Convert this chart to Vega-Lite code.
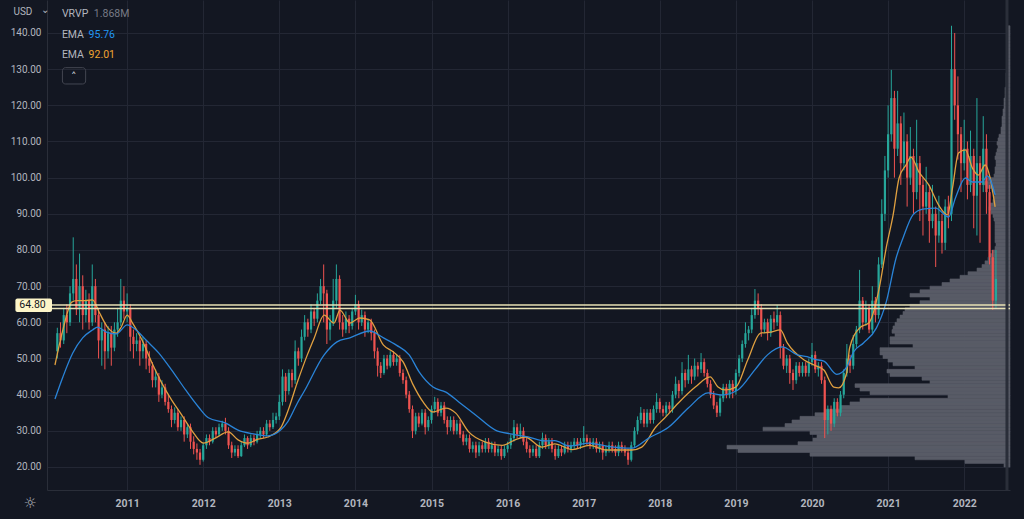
{
"$schema":"https://vega.github.io/schema/vega-lite/v6.json",
"width":963,"height":490,
"autosize":{"type":"none"},
"padding":{"left":47,"top":0,"right":14,"bottom":29},
"background":"#131722",
"config":{"view":{"stroke":null},"font":"Roboto",
"axis":{"domainColor":"#2a2e39","gridColor":"#232734","labelColor":"#b2b5be","ticks":false,"labelFont":"Roboto"}},
"datasets":{
"candles":[
{"t":2010.083,"o":52,"h":58.5,"l":50,"c":57},{"t":2010.125,"o":57,"h":60,"l":53,"c":55},{"t":2010.167,"o":55,"h":64,"l":54,"c":62},{"t":2010.208,"o":62,"h":65,"l":57,"c":60},{"t":2010.250,"o":60,"h":70,"l":59,"c":68},{"t":2010.292,"o":68,"h":83.5,"l":66,"c":72},{"t":2010.333,"o":72,"h":76,"l":62,"c":64},{"t":2010.375,"o":64,"h":79,"l":60,"c":70},{"t":2010.417,"o":70,"h":73,"l":58,"c":62},{"t":2010.458,"o":62,"h":69,"l":60,"c":66},{"t":2010.500,"o":66,"h":68,"l":58,"c":60},{"t":2010.542,"o":60,"h":76,"l":59,"c":70},{"t":2010.583,"o":70,"h":72,"l":60,"c":62},{"t":2010.625,"o":62,"h":64,"l":50,"c":55},{"t":2010.667,"o":55,"h":60,"l":48,"c":58},{"t":2010.708,"o":58,"h":60,"l":47,"c":52},{"t":2010.750,"o":52,"h":59,"l":50,"c":57},{"t":2010.792,"o":57,"h":59,"l":48,"c":53},{"t":2010.833,"o":53,"h":60,"l":52,"c":58},{"t":2010.875,"o":58,"h":64,"l":56,"c":60},{"t":2010.917,"o":60,"h":72,"l":59,"c":66},{"t":2010.958,"o":66,"h":70,"l":61,"c":63},
{"t":2011.000,"o":63,"h":68,"l":60,"c":64},{"t":2011.042,"o":64,"h":65,"l":52,"c":56},{"t":2011.083,"o":56,"h":58,"l":50,"c":54},{"t":2011.125,"o":54,"h":57,"l":52,"c":55},{"t":2011.167,"o":55,"h":56,"l":48,"c":52},{"t":2011.208,"o":52,"h":56,"l":50,"c":54},{"t":2011.250,"o":54,"h":55,"l":47,"c":50},{"t":2011.292,"o":50,"h":52,"l":46,"c":48},{"t":2011.333,"o":48,"h":49,"l":42,"c":44},{"t":2011.375,"o":44,"h":47,"l":42,"c":45},{"t":2011.417,"o":45,"h":46,"l":38,"c":40},{"t":2011.458,"o":40,"h":44,"l":39,"c":42},{"t":2011.500,"o":42,"h":43,"l":37,"c":38},{"t":2011.542,"o":38,"h":40,"l":35,"c":36},{"t":2011.583,"o":36,"h":37,"l":31,"c":33},{"t":2011.625,"o":33,"h":36.5,"l":32,"c":35},{"t":2011.667,"o":35,"h":36,"l":30,"c":31},{"t":2011.708,"o":31,"h":34,"l":30,"c":33},{"t":2011.750,"o":33,"h":34,"l":27,"c":29},{"t":2011.792,"o":29,"h":32,"l":28,"c":31},{"t":2011.833,"o":31,"h":32,"l":25,"c":27},{"t":2011.875,"o":27,"h":28.5,"l":23.5,"c":25},{"t":2011.917,"o":25,"h":26.5,"l":22,"c":24},{"t":2011.958,"o":24,"h":25,"l":20.6,"c":22},
{"t":2012.000,"o":22,"h":26.8,"l":21.5,"c":26},{"t":2012.042,"o":26,"h":29,"l":25,"c":28},{"t":2012.083,"o":28,"h":29,"l":26,"c":27},{"t":2012.125,"o":27,"h":31,"l":26.5,"c":30},{"t":2012.167,"o":30,"h":31,"l":28,"c":29},{"t":2012.208,"o":29,"h":32,"l":28.5,"c":31},{"t":2012.250,"o":31,"h":32.8,"l":30,"c":32},{"t":2012.292,"o":32,"h":33.6,"l":29,"c":30},{"t":2012.333,"o":30,"h":31,"l":25,"c":26},{"t":2012.375,"o":26,"h":27,"l":22.5,"c":24},{"t":2012.417,"o":24,"h":26,"l":23,"c":25},{"t":2012.458,"o":25,"h":26,"l":22.5,"c":23},{"t":2012.500,"o":23,"h":27,"l":22.8,"c":26},{"t":2012.542,"o":26,"h":29,"l":25.5,"c":28},{"t":2012.583,"o":28,"h":28.5,"l":25,"c":26},{"t":2012.625,"o":26,"h":29,"l":25.5,"c":28},{"t":2012.667,"o":28,"h":29,"l":26,"c":27},{"t":2012.708,"o":27,"h":30,"l":26.5,"c":29},{"t":2012.750,"o":29,"h":31,"l":28,"c":30},{"t":2012.792,"o":30,"h":31,"l":28,"c":29},{"t":2012.833,"o":29,"h":33,"l":28.5,"c":32},{"t":2012.875,"o":32,"h":33,"l":30,"c":31},{"t":2012.917,"o":31,"h":35,"l":30.5,"c":33},{"t":2012.958,"o":33,"h":35,"l":32,"c":34},
{"t":2013.000,"o":34,"h":40,"l":33,"c":38},{"t":2013.042,"o":38,"h":47,"l":37,"c":45},{"t":2013.083,"o":45,"h":46,"l":38,"c":41},{"t":2013.125,"o":41,"h":47,"l":40,"c":46},{"t":2013.167,"o":46,"h":47,"l":42,"c":44},{"t":2013.208,"o":44,"h":55,"l":43,"c":52},{"t":2013.250,"o":52,"h":53,"l":48,"c":50},{"t":2013.292,"o":50,"h":58,"l":49,"c":56},{"t":2013.333,"o":56,"h":62,"l":55,"c":60},{"t":2013.375,"o":60,"h":61,"l":56,"c":58},{"t":2013.417,"o":58,"h":65,"l":57,"c":63},{"t":2013.458,"o":63,"h":64,"l":59,"c":61},{"t":2013.500,"o":61,"h":68,"l":60,"c":66},{"t":2013.542,"o":66,"h":72,"l":65,"c":70},{"t":2013.583,"o":70,"h":76,"l":60,"c":68},{"t":2013.625,"o":68,"h":69,"l":54,"c":58},{"t":2013.667,"o":58,"h":62,"l":55,"c":60},{"t":2013.708,"o":60,"h":72,"l":59,"c":66},{"t":2013.750,"o":66,"h":76,"l":64,"c":72},{"t":2013.792,"o":72,"h":73,"l":58,"c":60},{"t":2013.833,"o":60,"h":62,"l":56,"c":58},{"t":2013.875,"o":58,"h":63,"l":57,"c":61},{"t":2013.917,"o":61,"h":62,"l":57,"c":59},{"t":2013.958,"o":59,"h":64,"l":58,"c":63},
{"t":2014.000,"o":63,"h":67.6,"l":62,"c":65},{"t":2014.042,"o":65,"h":66,"l":58,"c":60},{"t":2014.083,"o":60,"h":63.5,"l":59,"c":62},{"t":2014.125,"o":62,"h":63,"l":56,"c":58},{"t":2014.167,"o":58,"h":61,"l":57,"c":60},{"t":2014.208,"o":60,"h":61,"l":55,"c":57},{"t":2014.250,"o":57,"h":58,"l":50,"c":52},{"t":2014.292,"o":52,"h":53,"l":45,"c":48},{"t":2014.333,"o":48,"h":49,"l":44.6,"c":46},{"t":2014.375,"o":46,"h":51,"l":45.5,"c":50},{"t":2014.417,"o":50,"h":51,"l":47,"c":48},{"t":2014.458,"o":48,"h":52,"l":47.5,"c":51},{"t":2014.500,"o":51,"h":52,"l":48,"c":49},{"t":2014.542,"o":49,"h":51,"l":48,"c":50},{"t":2014.583,"o":50,"h":51,"l":45,"c":46},{"t":2014.625,"o":46,"h":47,"l":43,"c":44},{"t":2014.667,"o":44,"h":45,"l":39,"c":40},{"t":2014.708,"o":40,"h":41,"l":35,"c":36},{"t":2014.750,"o":36,"h":37,"l":28,"c":30},{"t":2014.792,"o":30,"h":35,"l":29,"c":34},{"t":2014.833,"o":34,"h":35,"l":31,"c":32},{"t":2014.875,"o":32,"h":36,"l":31.5,"c":35},{"t":2014.917,"o":35,"h":36,"l":29,"c":31},{"t":2014.958,"o":31,"h":34,"l":30,"c":33},
{"t":2015.000,"o":33,"h":37,"l":32,"c":36},{"t":2015.042,"o":36,"h":39.4,"l":35,"c":38},{"t":2015.083,"o":38,"h":39,"l":34,"c":35},{"t":2015.125,"o":35,"h":38,"l":34,"c":37},{"t":2015.167,"o":37,"h":38,"l":32,"c":33},{"t":2015.208,"o":33,"h":34,"l":29,"c":31},{"t":2015.250,"o":31,"h":34,"l":30,"c":33},{"t":2015.292,"o":33,"h":34,"l":29,"c":30},{"t":2015.333,"o":30,"h":33,"l":29,"c":32},{"t":2015.375,"o":32,"h":33,"l":28,"c":29},{"t":2015.417,"o":29,"h":30,"l":26,"c":27},{"t":2015.458,"o":27,"h":29,"l":26,"c":28},{"t":2015.500,"o":28,"h":29,"l":24,"c":25},{"t":2015.542,"o":25,"h":27,"l":24,"c":26},{"t":2015.583,"o":26,"h":27,"l":22.5,"c":24},{"t":2015.625,"o":24,"h":27,"l":23,"c":26},{"t":2015.667,"o":26,"h":27,"l":24,"c":25},{"t":2015.708,"o":25,"h":28,"l":24,"c":27},{"t":2015.750,"o":27,"h":28,"l":24,"c":25},{"t":2015.792,"o":25,"h":27,"l":24,"c":26},{"t":2015.833,"o":26,"h":27,"l":23,"c":24},{"t":2015.875,"o":24,"h":26,"l":23,"c":25},{"t":2015.917,"o":25,"h":26,"l":22,"c":23},{"t":2015.958,"o":23,"h":26,"l":22.5,"c":25},
{"t":2016.000,"o":25,"h":27,"l":24,"c":26},{"t":2016.042,"o":26,"h":29,"l":25,"c":28},{"t":2016.083,"o":28,"h":33,"l":27,"c":31},{"t":2016.125,"o":31,"h":32,"l":28,"c":29},{"t":2016.167,"o":29,"h":32,"l":28,"c":30},{"t":2016.208,"o":30,"h":31,"l":26,"c":27},{"t":2016.250,"o":27,"h":28,"l":24,"c":25},{"t":2016.292,"o":25,"h":26,"l":22.5,"c":24},{"t":2016.333,"o":24,"h":26,"l":23,"c":25},{"t":2016.375,"o":25,"h":26,"l":22.5,"c":23},{"t":2016.417,"o":23,"h":27,"l":22.5,"c":26},{"t":2016.458,"o":26,"h":29.5,"l":25,"c":28},{"t":2016.500,"o":28,"h":29,"l":25,"c":26},{"t":2016.542,"o":26,"h":28,"l":25,"c":27},{"t":2016.583,"o":27,"h":28,"l":24,"c":25},{"t":2016.625,"o":25,"h":26,"l":22,"c":23},{"t":2016.667,"o":23,"h":26,"l":22.5,"c":25},{"t":2016.708,"o":25,"h":26,"l":23,"c":24},{"t":2016.750,"o":24,"h":27,"l":23.5,"c":26},{"t":2016.792,"o":26,"h":27,"l":24,"c":25},{"t":2016.833,"o":25,"h":27,"l":24,"c":26},{"t":2016.875,"o":26,"h":28,"l":25,"c":27},{"t":2016.917,"o":27,"h":28,"l":25,"c":26},{"t":2016.958,"o":26,"h":28,"l":25,"c":27},
{"t":2017.000,"o":27,"h":31.3,"l":26,"c":28},{"t":2017.042,"o":28,"h":29,"l":26,"c":27},{"t":2017.083,"o":27,"h":28,"l":25,"c":26},{"t":2017.125,"o":26,"h":28,"l":25,"c":27},{"t":2017.167,"o":27,"h":28,"l":24,"c":25},{"t":2017.208,"o":25,"h":27,"l":24,"c":26},{"t":2017.250,"o":26,"h":27,"l":22,"c":24},{"t":2017.292,"o":24,"h":26,"l":23,"c":25},{"t":2017.333,"o":25,"h":27,"l":24,"c":26},{"t":2017.375,"o":26,"h":27,"l":24,"c":25},{"t":2017.417,"o":25,"h":26,"l":23,"c":24},{"t":2017.458,"o":24,"h":27,"l":23,"c":26},{"t":2017.500,"o":26,"h":27,"l":24,"c":25},{"t":2017.542,"o":25,"h":26,"l":23,"c":24},{"t":2017.583,"o":24,"h":25,"l":20.6,"c":22},{"t":2017.625,"o":22,"h":27,"l":21.5,"c":26},{"t":2017.667,"o":26,"h":31,"l":25.5,"c":30},{"t":2017.708,"o":30,"h":34,"l":29,"c":33},{"t":2017.750,"o":33,"h":36.6,"l":32,"c":35},{"t":2017.792,"o":35,"h":36,"l":31,"c":32},{"t":2017.833,"o":32,"h":36,"l":31,"c":35},{"t":2017.875,"o":35,"h":36,"l":32,"c":33},{"t":2017.917,"o":33,"h":37,"l":32,"c":36},{"t":2017.958,"o":36,"h":40.4,"l":35,"c":38},
{"t":2018.000,"o":38,"h":39,"l":35,"c":36},{"t":2018.042,"o":36,"h":37,"l":34,"c":35},{"t":2018.083,"o":35,"h":38,"l":34,"c":37},{"t":2018.125,"o":37,"h":38,"l":35,"c":36},{"t":2018.167,"o":36,"h":41,"l":35,"c":40},{"t":2018.208,"o":40,"h":45,"l":39,"c":43},{"t":2018.250,"o":43,"h":44,"l":39,"c":41},{"t":2018.292,"o":41,"h":49,"l":40,"c":46},{"t":2018.333,"o":46,"h":47,"l":42,"c":44},{"t":2018.375,"o":44,"h":51,"l":43,"c":47},{"t":2018.417,"o":47,"h":48,"l":43,"c":45},{"t":2018.458,"o":45,"h":50,"l":44,"c":48},{"t":2018.500,"o":48,"h":49,"l":45,"c":47},{"t":2018.542,"o":47,"h":51.5,"l":46,"c":49},{"t":2018.583,"o":49,"h":50,"l":45,"c":46},{"t":2018.625,"o":46,"h":47,"l":42,"c":43},{"t":2018.667,"o":43,"h":44,"l":39,"c":40},{"t":2018.708,"o":40,"h":41,"l":36,"c":37},{"t":2018.750,"o":37,"h":38,"l":33.8,"c":35},{"t":2018.792,"o":35,"h":40,"l":34,"c":39},{"t":2018.833,"o":39,"h":43,"l":38,"c":42},{"t":2018.875,"o":42,"h":43,"l":39,"c":40},{"t":2018.917,"o":40,"h":44,"l":39,"c":43},{"t":2018.958,"o":43,"h":44,"l":39,"c":41},
{"t":2019.000,"o":41,"h":47,"l":40,"c":46},{"t":2019.042,"o":46,"h":51,"l":45,"c":50},{"t":2019.083,"o":50,"h":55,"l":49,"c":54},{"t":2019.125,"o":54,"h":60,"l":53,"c":57},{"t":2019.167,"o":57,"h":59,"l":55,"c":58},{"t":2019.208,"o":58,"h":64,"l":57,"c":62},{"t":2019.250,"o":62,"h":69.2,"l":61,"c":66},{"t":2019.292,"o":66,"h":68,"l":62,"c":64},{"t":2019.333,"o":64,"h":65,"l":56,"c":58},{"t":2019.375,"o":58,"h":61,"l":57,"c":60},{"t":2019.417,"o":60,"h":61,"l":55,"c":57},{"t":2019.458,"o":57,"h":62,"l":56,"c":61},{"t":2019.500,"o":61,"h":63,"l":58,"c":60},{"t":2019.542,"o":60,"h":64.8,"l":59,"c":62},{"t":2019.583,"o":62,"h":63,"l":50,"c":53},{"t":2019.625,"o":53,"h":54,"l":47,"c":48},{"t":2019.667,"o":48,"h":51,"l":46,"c":50},{"t":2019.708,"o":50,"h":51,"l":43,"c":46},{"t":2019.750,"o":46,"h":47,"l":41.3,"c":44},{"t":2019.792,"o":44,"h":49,"l":43,"c":48},{"t":2019.833,"o":48,"h":49,"l":45,"c":46},{"t":2019.875,"o":46,"h":49,"l":45,"c":48},{"t":2019.917,"o":48,"h":49,"l":45,"c":46},{"t":2019.958,"o":46,"h":50,"l":45,"c":49},
{"t":2020.000,"o":49,"h":54.3,"l":48,"c":51},{"t":2020.042,"o":51,"h":52,"l":46,"c":47},{"t":2020.083,"o":47,"h":49,"l":45,"c":48},{"t":2020.125,"o":48,"h":49,"l":43,"c":44},{"t":2020.167,"o":44,"h":45,"l":28,"c":33},{"t":2020.208,"o":33,"h":37,"l":29,"c":36},{"t":2020.250,"o":36,"h":37,"l":30,"c":32},{"t":2020.292,"o":32,"h":39,"l":31,"c":38},{"t":2020.333,"o":38,"h":39,"l":34,"c":35},{"t":2020.375,"o":35,"h":41,"l":34,"c":40},{"t":2020.417,"o":40,"h":47,"l":39,"c":46},{"t":2020.458,"o":46,"h":54,"l":45,"c":50},{"t":2020.500,"o":50,"h":51,"l":46,"c":48},{"t":2020.542,"o":48,"h":56.5,"l":47,"c":54},{"t":2020.583,"o":54,"h":59,"l":53,"c":58},{"t":2020.625,"o":58,"h":74.5,"l":57,"c":66},{"t":2020.667,"o":66,"h":67,"l":58,"c":60},{"t":2020.708,"o":60,"h":66,"l":59,"c":64},{"t":2020.750,"o":64,"h":65,"l":57,"c":58},{"t":2020.792,"o":58,"h":70,"l":57,"c":66},{"t":2020.833,"o":66,"h":67,"l":60,"c":62},{"t":2020.875,"o":62,"h":78,"l":61,"c":76},{"t":2020.917,"o":76,"h":94,"l":75,"c":90},{"t":2020.958,"o":90,"h":106,"l":88,"c":102},
{"t":2021.000,"o":102,"h":120,"l":100,"c":112},{"t":2021.042,"o":112,"h":129.8,"l":110,"c":122},{"t":2021.083,"o":122,"h":124,"l":100,"c":108},{"t":2021.125,"o":108,"h":124,"l":106,"c":115},{"t":2021.167,"o":115,"h":117,"l":98,"c":104},{"t":2021.208,"o":104,"h":118,"l":102,"c":110},{"t":2021.250,"o":110,"h":112,"l":92,"c":100},{"t":2021.292,"o":100,"h":114,"l":98,"c":106},{"t":2021.333,"o":106,"h":108,"l":90,"c":96},{"t":2021.375,"o":96,"h":116,"l":94,"c":104},{"t":2021.417,"o":104,"h":106,"l":88,"c":98},{"t":2021.458,"o":98,"h":100,"l":84,"c":92},{"t":2021.500,"o":92,"h":103,"l":90,"c":96},{"t":2021.542,"o":96,"h":98,"l":82,"c":88},{"t":2021.583,"o":88,"h":98,"l":86,"c":90},{"t":2021.625,"o":90,"h":92,"l":75.3,"c":84},{"t":2021.667,"o":84,"h":95,"l":82,"c":88},{"t":2021.708,"o":88,"h":90,"l":79,"c":82},{"t":2021.750,"o":82,"h":94,"l":80,"c":92},{"t":2021.792,"o":92,"h":95,"l":86,"c":90},{"t":2021.833,"o":90,"h":142,"l":88,"c":130},{"t":2021.875,"o":130,"h":140,"l":116,"c":120},{"t":2021.917,"o":120,"h":128,"l":105,"c":112},{"t":2021.958,"o":112,"h":114,"l":96,"c":104},
{"t":2022.000,"o":104,"h":116,"l":102,"c":108},{"t":2022.042,"o":108,"h":110,"l":94,"c":98},{"t":2022.083,"o":98,"h":113,"l":96,"c":106},{"t":2022.125,"o":106,"h":108,"l":86,"c":95},{"t":2022.167,"o":95,"h":122,"l":84,"c":104},{"t":2022.208,"o":104,"h":106,"l":82,"c":98},{"t":2022.250,"o":98,"h":117,"l":96,"c":108},{"t":2022.292,"o":108,"h":112,"l":90,"c":96},{"t":2022.333,"o":96,"h":98,"l":76,"c":78},{"t":2022.375,"o":78,"h":80,"l":63.4,"c":66},{"t":2022.417,"o":66,"h":80,"l":64,"c":72}
],
"ema":[
{"t":2010.052,"v":48.2,"s":"fast"},{"t":2010.156,"v":57.9,"s":"fast"},{"t":2010.273,"v":65.6,"s":"fast"},{"t":2010.338,"v":66,"s":"fast"},{"t":2010.442,"v":66,"s":"fast"},{"t":2010.546,"v":66.2,"s":"fast"},{"t":2010.637,"v":62.6,"s":"fast"},{"t":2010.741,"v":58.7,"s":"fast"},{"t":2010.858,"v":57,"s":"fast"},{"t":2010.923,"v":58.7,"s":"fast"},{"t":2011.001,"v":62,"s":"fast"},{"t":2011.066,"v":60,"s":"fast"},{"t":2011.196,"v":55.1,"s":"fast"},{"t":2011.326,"v":48.8,"s":"fast"},{"t":2011.456,"v":43.2,"s":"fast"},{"t":2011.586,"v":38.5,"s":"fast"},{"t":2011.717,"v":34.4,"s":"fast"},{"t":2011.847,"v":30.2,"s":"fast"},{"t":2012.003,"v":26.6,"s":"fast"},{"t":2012.159,"v":28,"s":"fast"},{"t":2012.328,"v":29.7,"s":"fast"},{"t":2012.458,"v":27.5,"s":"fast"},{"t":2012.588,"v":26.6,"s":"fast"},{"t":2012.718,"v":27.7,"s":"fast"},{"t":2012.848,"v":28.3,"s":"fast"},{"t":2013.017,"v":30.8,"s":"fast"},{"t":2013.108,"v":35.2,"s":"fast"},{"t":2013.238,"v":43.5,"s":"fast"},{"t":2013.368,"v":51,"s":"fast"},{"t":2013.459,"v":55.7,"s":"fast"},{"t":2013.589,"v":62,"s":"fast"},{"t":2013.719,"v":59.8,"s":"fast"},{"t":2013.797,"v":63.4,"s":"fast"},{"t":2013.927,"v":59.8,"s":"fast"},{"t":2014.057,"v":61.2,"s":"fast"},{"t":2014.187,"v":60.7,"s":"fast"},{"t":2014.369,"v":53.7,"s":"fast"},{"t":2014.499,"v":51.8,"s":"fast"},{"t":2014.629,"v":49,"s":"fast"},{"t":2014.759,"v":42.7,"s":"fast"},{"t":2014.889,"v":38,"s":"fast"},{"t":2015.020,"v":35.2,"s":"fast"},{"t":2015.189,"v":36.3,"s":"fast"},{"t":2015.319,"v":34.9,"s":"fast"},{"t":2015.488,"v":29.7,"s":"fast"},{"t":2015.709,"v":26.9,"s":"fast"},{"t":2015.930,"v":26,"s":"fast"},{"t":2016.099,"v":27.5,"s":"fast"},{"t":2016.229,"v":28.3,"s":"fast"},{"t":2016.450,"v":25.5,"s":"fast"},{"t":2016.619,"v":26.4,"s":"fast"},{"t":2016.853,"v":24.8,"s":"fast"},{"t":2017.074,"v":26,"s":"fast"},{"t":2017.295,"v":24.7,"s":"fast"},{"t":2017.633,"v":24.7,"s":"fast"},{"t":2017.763,"v":25.5,"s":"fast"},{"t":2017.945,"v":31,"s":"fast"},{"t":2018.075,"v":33.8,"s":"fast"},{"t":2018.244,"v":37.7,"s":"fast"},{"t":2018.466,"v":42.1,"s":"fast"},{"t":2018.661,"v":44.9,"s":"fast"},{"t":2018.765,"v":42.1,"s":"fast"},{"t":2018.856,"v":41.3,"s":"fast"},{"t":2018.999,"v":42.1,"s":"fast"},{"t":2019.155,"v":49.6,"s":"fast"},{"t":2019.324,"v":57,"s":"fast"},{"t":2019.454,"v":57.3,"s":"fast"},{"t":2019.584,"v":57.9,"s":"fast"},{"t":2019.675,"v":54.3,"s":"fast"},{"t":2019.896,"v":49.6,"s":"fast"},{"t":2020.026,"v":48.2,"s":"fast"},{"t":2020.156,"v":46.8,"s":"fast"},{"t":2020.286,"v":42.1,"s":"fast"},{"t":2020.351,"v":41.9,"s":"fast"},{"t":2020.455,"v":46,"s":"fast"},{"t":2020.494,"v":52.9,"s":"fast"},{"t":2020.624,"v":58.4,"s":"fast"},{"t":2020.754,"v":60,"s":"fast"},{"t":2020.884,"v":69.5,"s":"fast"},{"t":2020.975,"v":80.6,"s":"fast"},{"t":2021.066,"v":89.7,"s":"fast"},{"t":2021.144,"v":99.9,"s":"fast"},{"t":2021.235,"v":103.5,"s":"fast"},{"t":2021.300,"v":105.7,"s":"fast"},{"t":2021.404,"v":101.6,"s":"fast"},{"t":2021.534,"v":98,"s":"fast"},{"t":2021.664,"v":92.4,"s":"fast"},{"t":2021.781,"v":89.7,"s":"fast"},{"t":2021.846,"v":97.1,"s":"fast"},{"t":2021.925,"v":106.8,"s":"fast"},{"t":2022.016,"v":107.7,"s":"fast"},{"t":2022.107,"v":102.7,"s":"fast"},{"t":2022.185,"v":100.7,"s":"fast"},{"t":2022.276,"v":103.5,"s":"fast"},{"t":2022.341,"v":99.9,"s":"fast"},{"t":2022.406,"v":91.9,"s":"fast"},
{"t":2010.052,"v":38.8,"s":"slow"},{"t":2010.156,"v":44.9,"s":"slow"},{"t":2010.286,"v":51.5,"s":"slow"},{"t":2010.416,"v":55.7,"s":"slow"},{"t":2010.546,"v":57.9,"s":"slow"},{"t":2010.611,"v":58.7,"s":"slow"},{"t":2010.728,"v":57.3,"s":"slow"},{"t":2010.858,"v":56.8,"s":"slow"},{"t":2011.001,"v":59.3,"s":"slow"},{"t":2011.118,"v":57.9,"s":"slow"},{"t":2011.248,"v":55.1,"s":"slow"},{"t":2011.417,"v":51.5,"s":"slow"},{"t":2011.586,"v":46.8,"s":"slow"},{"t":2011.769,"v":41.3,"s":"slow"},{"t":2011.938,"v":36.6,"s":"slow"},{"t":2012.068,"v":33.6,"s":"slow"},{"t":2012.289,"v":32.2,"s":"slow"},{"t":2012.458,"v":30.2,"s":"slow"},{"t":2012.679,"v":29.1,"s":"slow"},{"t":2012.848,"v":28.6,"s":"slow"},{"t":2013.017,"v":30.2,"s":"slow"},{"t":2013.108,"v":32.4,"s":"slow"},{"t":2013.238,"v":37.7,"s":"slow"},{"t":2013.329,"v":41,"s":"slow"},{"t":2013.589,"v":51,"s":"slow"},{"t":2013.758,"v":54.6,"s":"slow"},{"t":2013.927,"v":55.7,"s":"slow"},{"t":2014.187,"v":57.6,"s":"slow"},{"t":2014.369,"v":55.7,"s":"slow"},{"t":2014.538,"v":53.7,"s":"slow"},{"t":2014.707,"v":51,"s":"slow"},{"t":2014.837,"v":46.3,"s":"slow"},{"t":2015.020,"v":42.1,"s":"slow"},{"t":2015.189,"v":40.7,"s":"slow"},{"t":2015.358,"v":38,"s":"slow"},{"t":2015.579,"v":34.4,"s":"slow"},{"t":2015.839,"v":30.2,"s":"slow"},{"t":2016.060,"v":29.1,"s":"slow"},{"t":2016.268,"v":28.3,"s":"slow"},{"t":2016.489,"v":27.2,"s":"slow"},{"t":2016.619,"v":27.3,"s":"slow"},{"t":2016.814,"v":25.8,"s":"slow"},{"t":2017.074,"v":26.6,"s":"slow"},{"t":2017.295,"v":25.8,"s":"slow"},{"t":2017.633,"v":25.2,"s":"slow"},{"t":2017.854,"v":28,"s":"slow"},{"t":2018.114,"v":31,"s":"slow"},{"t":2018.374,"v":36.3,"s":"slow"},{"t":2018.635,"v":40.5,"s":"slow"},{"t":2018.804,"v":39.9,"s":"slow"},{"t":2019.025,"v":41.3,"s":"slow"},{"t":2019.246,"v":46.8,"s":"slow"},{"t":2019.415,"v":51,"s":"slow"},{"t":2019.610,"v":53.2,"s":"slow"},{"t":2019.805,"v":51,"s":"slow"},{"t":2019.935,"v":50.5,"s":"slow"},{"t":2020.026,"v":49.8,"s":"slow"},{"t":2020.156,"v":49.3,"s":"slow"},{"t":2020.325,"v":45.6,"s":"slow"},{"t":2020.455,"v":47.6,"s":"slow"},{"t":2020.546,"v":51.8,"s":"slow"},{"t":2020.676,"v":54.3,"s":"slow"},{"t":2020.845,"v":58.4,"s":"slow"},{"t":2020.975,"v":65.6,"s":"slow"},{"t":2021.105,"v":77.8,"s":"slow"},{"t":2021.196,"v":83.3,"s":"slow"},{"t":2021.326,"v":89.7,"s":"slow"},{"t":2021.456,"v":91.3,"s":"slow"},{"t":2021.625,"v":91.6,"s":"slow"},{"t":2021.794,"v":89.1,"s":"slow"},{"t":2021.885,"v":94.4,"s":"slow"},{"t":2022.016,"v":99.9,"s":"slow"},{"t":2022.107,"v":98.8,"s":"slow"},{"t":2022.237,"v":98.8,"s":"slow"},{"t":2022.302,"v":100.5,"s":"slow"},{"t":2022.406,"v":95.2,"s":"slow"}
],
"vp":[
{"p":20,"q":21,"v":6},{"p":21,"q":22,"v":45},{"p":22,"q":23,"v":95},{"p":23,"q":24,"v":200},{"p":24,"q":25,"v":272},{"p":25,"q":26,"v":283},{"p":26,"q":27,"v":212},{"p":27,"q":28,"v":197},{"p":28,"q":29,"v":193},{"p":29,"q":30,"v":200},{"p":30,"q":31,"v":247},{"p":31,"q":32,"v":225},{"p":32,"q":33,"v":218},{"p":33,"q":34,"v":210},{"p":34,"q":35,"v":195},{"p":35,"q":36,"v":185},{"p":36,"q":37,"v":170},{"p":37,"q":38,"v":160},{"p":38,"q":39,"v":150},{"p":39,"q":40,"v":62},{"p":40,"q":41,"v":140},{"p":41,"q":42,"v":150},{"p":42,"q":43,"v":155},{"p":43,"q":44,"v":80},{"p":44,"q":45,"v":88},{"p":45,"q":46,"v":120},{"p":46,"q":47,"v":123},{"p":47,"q":48,"v":95},{"p":48,"q":49,"v":117},{"p":49,"q":50,"v":122},{"p":50,"q":51,"v":127},{"p":51,"q":52,"v":130},{"p":52,"q":53,"v":130},{"p":53,"q":54,"v":97},{"p":54,"q":55,"v":120},{"p":55,"q":56,"v":120},{"p":56,"q":57,"v":115},{"p":57,"q":58,"v":118},{"p":58,"q":59,"v":117},{"p":59,"q":60,"v":115},{"p":60,"q":61,"v":113},{"p":61,"q":62,"v":110},{"p":62,"q":63,"v":107},{"p":63,"q":64,"v":105},{"p":64,"q":65,"v":100},{"p":65,"q":66,"v":90},{"p":66,"q":67,"v":80},{"p":67,"q":68,"v":100},{"p":68,"q":69,"v":90},{"p":69,"q":70,"v":80},{"p":70,"q":71,"v":68},{"p":71,"q":72,"v":60},{"p":72,"q":73,"v":50},{"p":73,"q":74,"v":42},{"p":74,"q":75,"v":33},{"p":75,"q":76,"v":28},{"p":76,"q":77,"v":25},{"p":77,"q":78,"v":22},{"p":78,"q":79,"v":20},{"p":79,"q":80,"v":18},{"p":80,"q":81,"v":15},{"p":81,"q":82,"v":14},{"p":82,"q":83,"v":15},{"p":83,"q":84,"v":15},{"p":84,"q":85,"v":15},{"p":85,"q":86,"v":15},{"p":86,"q":87,"v":15},{"p":87,"q":88,"v":15},{"p":88,"q":89,"v":16},{"p":89,"q":90,"v":17},{"p":90,"q":91,"v":19},{"p":91,"q":92,"v":21},{"p":92,"q":93,"v":20},{"p":93,"q":94,"v":17},{"p":94,"q":95,"v":16},{"p":95,"q":96,"v":15},{"p":96,"q":97,"v":18},{"p":97,"q":98,"v":24},{"p":98,"q":99,"v":26},{"p":99,"q":100,"v":22},{"p":100,"q":101,"v":16},{"p":101,"q":102,"v":15},{"p":102,"q":103,"v":15},{"p":103,"q":104,"v":14},{"p":104,"q":105,"v":14},{"p":105,"q":106,"v":15},{"p":106,"q":107,"v":14},{"p":107,"q":108,"v":13},{"p":108,"q":109,"v":12},{"p":109,"q":110,"v":13},{"p":110,"q":111,"v":12},{"p":111,"q":112,"v":11},{"p":112,"q":113,"v":9},{"p":113,"q":114,"v":9},{"p":114,"q":115,"v":8},{"p":115,"q":116,"v":8},{"p":116,"q":117,"v":8},{"p":117,"q":118,"v":7},{"p":118,"q":119,"v":7},{"p":119,"q":120,"v":6},{"p":120,"q":121,"v":6},{"p":121,"q":122,"v":6},{"p":122,"q":123,"v":5},{"p":123,"q":124,"v":5},{"p":124,"q":125,"v":5},{"p":125,"q":126,"v":4},{"p":126,"q":127,"v":4},{"p":127,"q":128,"v":4},{"p":128,"q":129,"v":4},{"p":129,"q":130,"v":3},{"p":130,"q":131,"v":3},{"p":131,"q":132,"v":3},{"p":132,"q":133,"v":3},{"p":133,"q":134,"v":3},{"p":134,"q":135,"v":2},{"p":135,"q":136,"v":2},{"p":136,"q":137,"v":2},{"p":137,"q":138,"v":2},{"p":138,"q":139,"v":2},{"p":139,"q":140,"v":2},{"p":140,"q":141,"v":2},{"p":141,"q":142,"v":2}
],
"hl":[{"p":64.8},{"p":63.83}],
"one":[{"k":1}]
},
"layer":[
{"data":{"name":"vp"},"mark":{"type":"bar","color":"#585b66","stroke":"#585b66","strokeWidth":0.6},
 "encoding":{
  "y":{"field":"p","type":"quantitative","title":null,"scale":{"domain":[13.64,149.12],"nice":false,"zero":false},
   "axis":{"values":[20,30,40,50,60,70,80,90,100,110,120,130,140],"format":".2f","labelFontSize":10,"labelPadding":6,"grid":true,"gridColor":"#232734","domainColor":"#2a2e39","ticks":false,"labelColor":"#b2b5be"}},
  "y2":{"field":"q"},
  "x":{"field":"v","type":"quantitative","scale":{"domain":[0,963],"reverse":true},"axis":null},
  "x2":{"datum":0}}},
{"layer":[
 {"data":{"name":"candles"},"mark":{"type":"rule","strokeWidth":1},
  "encoding":{
   "x":{"field":"t","type":"quantitative","title":null,"scale":{"domain":[2010.013,2022.536],"nice":false,"zero":false},
    "axis":{"values":[2011,2012,2013,2014,2015,2016,2017,2018,2019,2020,2021,2022],"format":"d","labelFontSize":10.5,"labelFontWeight":"bold","labelPadding":13,"labelBaseline":"middle","grid":true,"gridColor":"#232734","domainColor":"#2a2e39","ticks":false,"labelColor":"#b2b5be"}},
   "y":{"field":"l","type":"quantitative","title":null,"scale":{"domain":[13.64,149.12],"nice":false,"zero":false}},
   "y2":{"field":"h"},
   "color":{"condition":{"test":"datum.c >= datum.o","value":"#26a69a"},"value":"#ef5350"}}},
 {"data":{"name":"candles"},"mark":{"type":"bar","width":2.2},
  "encoding":{
   "x":{"field":"t","type":"quantitative","title":null,"scale":{"domain":[2010.013,2022.536],"nice":false,"zero":false}},
   "y":{"field":"o","type":"quantitative","title":null,"scale":{"domain":[13.64,149.12],"nice":false,"zero":false}},
   "y2":{"field":"c"},
   "color":{"condition":{"test":"datum.c >= datum.o","value":"#26a69a"},"value":"#ef5350"}}},
 {"data":{"name":"ema"},"mark":{"type":"line","strokeWidth":1.3,"interpolate":"monotone"},
  "encoding":{
   "x":{"field":"t","type":"quantitative","title":null,"scale":{"domain":[2010.013,2022.536],"nice":false,"zero":false}},
   "y":{"field":"v","type":"quantitative","title":null,"scale":{"domain":[13.64,149.12],"nice":false,"zero":false}},
   "color":{"field":"s","type":"nominal","scale":{"domain":["slow","fast"],"range":["#2a84d8","#e0a040"]},"legend":null}}},
 {"data":{"name":"hl"},"mark":{"type":"rule","color":"#e8e2b5","strokeWidth":1.5},
  "encoding":{"y":{"field":"p","type":"quantitative","title":null,"scale":{"domain":[13.64,149.12],"nice":false,"zero":false}}}},
 {"data":{"name":"one"},"mark":{"type":"rule","color":"#2a2e39","strokeWidth":3},
  "encoding":{"x":{"datum":2022.562,"type":"quantitative","scale":{"domain":[2010.013,2022.536],"nice":false,"zero":false}}}},
 {"data":{"name":"one"},"mark":{"type":"rect","fill":"#fdf5c8","cornerRadius":2},
  "encoding":{"x":{"datum":2009.532,"type":"quantitative"},"x2":{"datum":2010.013},"y":{"datum":66.6,"type":"quantitative"},"y2":{"datum":62.86}}},
 {"data":{"name":"one"},"mark":{"type":"text","align":"left","baseline":"middle","fontSize":10.5,"color":"#131722"},
  "encoding":{"x":{"datum":2009.584,"type":"quantitative"},"y":{"datum":64.8,"type":"quantitative"},"text":{"value":"64.80"}}},
 {"data":{"name":"one"},"mark":{"type":"text","align":"left","baseline":"middle","fontSize":10,"color":"#b2b5be"},
  "encoding":{"x":{"datum":2009.506,"type":"quantitative"},"y":{"datum":145.8,"type":"quantitative"},"text":{"value":"USD"}}},
 {"data":{"name":"one"},"mark":{"type":"text","align":"left","baseline":"middle","fontSize":10,"color":"#b2b5be","font":"DejaVu Sans"},
  "encoding":{"x":{"datum":2009.87,"type":"quantitative"},"y":{"datum":146.3,"type":"quantitative"},"text":{"value":"⌄"}}},
 {"data":{"name":"one"},"mark":{"type":"text","align":"left","baseline":"middle","fontSize":10.5,"color":"#b2b5be"},
  "encoding":{"x":{"datum":2010.143,"type":"quantitative"},"y":{"datum":145.25,"type":"quantitative"},"text":{"value":"VRVP"}}},
 {"data":{"name":"one"},"mark":{"type":"text","align":"left","baseline":"middle","fontSize":10.5,"color":"#787b86"},
  "encoding":{"x":{"datum":2010.563,"type":"quantitative"},"y":{"datum":145.25,"type":"quantitative"},"text":{"value":"1.868M"}}},
 {"data":{"name":"one"},"mark":{"type":"text","align":"left","baseline":"middle","fontSize":10.5,"color":"#b2b5be"},
  "encoding":{"x":{"datum":2010.143,"type":"quantitative"},"y":{"datum":139.45,"type":"quantitative"},"text":{"value":"EMA"}}},
 {"data":{"name":"one"},"mark":{"type":"text","align":"left","baseline":"middle","fontSize":10.5,"color":"#2196f3"},
  "encoding":{"x":{"datum":2010.494,"type":"quantitative"},"y":{"datum":139.45,"type":"quantitative"},"text":{"value":"95.76"}}},
 {"data":{"name":"one"},"mark":{"type":"text","align":"left","baseline":"middle","fontSize":10.5,"color":"#b2b5be"},
  "encoding":{"x":{"datum":2010.143,"type":"quantitative"},"y":{"datum":133.92,"type":"quantitative"},"text":{"value":"EMA"}}},
 {"data":{"name":"one"},"mark":{"type":"text","align":"left","baseline":"middle","fontSize":10.5,"color":"#f0a431"},
  "encoding":{"x":{"datum":2010.494,"type":"quantitative"},"y":{"datum":133.92,"type":"quantitative"},"text":{"value":"92.01"}}},
 {"data":{"name":"one"},"mark":{"type":"rect","fill":null,"stroke":"#434651","strokeWidth":1,"cornerRadius":3},
  "encoding":{"x":{"datum":2010.150,"type":"quantitative"},"x2":{"datum":2010.455},"y":{"datum":130.41,"type":"quantitative"},"y2":{"datum":125.9}}},
 {"data":{"name":"one"},"mark":{"type":"text","align":"center","baseline":"middle","fontSize":11,"color":"#d1d4dc","font":"DejaVu Sans"},
  "encoding":{"x":{"datum":2010.299,"type":"quantitative"},"y":{"datum":127.9,"type":"quantitative"},"text":{"value":"˄"}}},
 {"data":{"name":"one"},"mark":{"type":"text","align":"center","baseline":"middle","fontSize":15,"color":"#b2b5be","font":"DejaVu Sans"},
  "encoding":{"x":{"datum":2009.727,"type":"quantitative"},"y":{"datum":10.06,"type":"quantitative"},"text":{"value":"☼"}}}
 ]}
],
"resolve":{"scale":{"x":"independent"}}
}
